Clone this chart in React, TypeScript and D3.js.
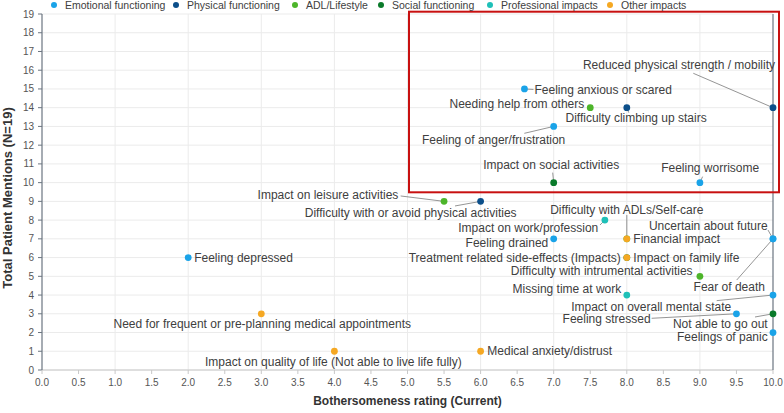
import React from "react";
import * as d3 from "d3";

// Impact categories (legend order = draw order)
const categories = [
  "Emotional functioning",
  "Physical functioning",
  "ADL/Lifestyle",
  "Social functioning",
  "Professional impacts",
  "Other impacts",
];
const categoryColors = ["#1aa3e8", "#0c4f8a", "#4db52a", "#0a7a2a", "#1ec0b8", "#f5a823"];

// Patient-reported impacts
const impacts = [
  "Feeling anxious or scared",
  "Feeling of anger/frustration",
  "Feeling worrisome",
  "Feeling depressed",
  "Feeling drained",
  "Uncertain about future",
  "Fear of death",
  "Impact on overall mental state",
  "Feeling stressed",
  "Feelings of panic",
  "Reduced physical strength / mobility",
  "Difficulty climbing up stairs",
  "Difficulty with or avoid physical activities",
  "Needing help from others",
  "Impact on leisure activities",
  "Difficulty with intrumental activities",
  "Difficulty with ADLs/Self-care",
  "Impact on social activities",
  "Not able to go out",
  "Impact on family life",
  "Impact on work/profession",
  "Missing time at work",
  "Need for frequent or pre-planning medical appointments",
  "Impact on quality of life (Not able to live life fully)",
  "Medical anxiety/distrust",
  "Financial impact",
  "Treatment related side-effects (Impacts)",
];
const impactCategory = [
  0, 0, 0, 0, 0, 0, 0, 0, 0, 0,
  1, 1, 1,
  2, 2, 2, 2,
  3, 3, 3,
  4, 4,
  5, 5, 5, 5, 5,
];
// Bothersomeness rating (Current)
const bothersomeness = [
  6.6, 7, 9, 2, 7, 10, 10, 10, 9.5, 10,
  10, 8, 6,
  7.5, 5.5, 9, 8,
  7, 10, 8,
  7.7, 8,
  3, 4, 6, 8, 8,
];
// Total patient mentions (N=19)
const mentions = [
  15, 13, 10, 6, 7, 7, 7, 4, 3, 2,
  14, 14, 9,
  14, 9, 5, 7,
  10, 3, 6,
  8, 4,
  3, 1, 1, 7, 6,
];

const xTicks = d3.range(0, 10.01, 0.5);
const yTicks = d3.range(0, 20, 1);

// Label placement relative to each dot: [anchor, dx, dy, leaderDx?, leaderDy?]
type LabelPlace = [string, number, number, number?, number?];
const labelPlacement: Record<string, LabelPlace> = {
  "Reduced physical strength / mobility": ["end", 2, -42.7, -79.7, -34.4],
  "Feeling anxious or scared": ["start", 10, 1, 9, 0.5],
  "Needing help from others": ["end", -6, -3.7],
  "Difficulty climbing up stairs": ["start", -61.3, 10.6, 2, 5],
  "Feeling of anger/frustration": ["end", 11.6, 13.6, -29.4, 6.9],
  "Impact on social activities": ["middle", -2.5, -17.6, -1, -10],
  "Feeling worrisome": ["middle", 10.3, -15, 2.7, -6],
  "Impact on leisure activities": ["end", -45.7, -6.4, -43.4, -5.4],
  "Difficulty with or avoid physical activities": ["end", 36, 11, -25.6, 4.6],
  "Difficulty with ADLs/Self-care": ["middle", 0, -29.5, 0, -23.8],
  "Impact on work/profession": ["end", -6.6, 7.2, -4.9, 4.9],
  "Feeling drained": ["end", -5.4, 3.9],
  "Financial impact": ["start", 6.5, 0],
  "Uncertain about future": ["end", -5.3, -13, -5, -8.8],
  "Treatment related side-effects (Impacts)": ["end", -6, 0],
  "Impact on family life": ["start", 6.5, 0],
  "Difficulty with intrumental activities": ["end", -7.3, -5.6],
  "Fear of death": ["middle", -43.7, 47.9, -36.3, 41.2],
  "Missing time at work": ["end", -5.5, -6.3],
  "Impact on overall mental state": ["middle", -121.8, 11.9, -56.3, 5.6],
  "Feeling stressed": ["end", -85.8, 5.5, -84.8, 4.5],
  "Not able to go out": ["end", -5.3, 10.5, -18, 3.2],
  "Feelings of panic": ["end", -5.3, 4.2],
  "Medical anxiety/distrust": ["start", 6.7, 0],
  "Impact on quality of life (Not able to live life fully)": ["middle", -1, 10.7],
  "Need for frequent or pre-planning medical appointments": ["middle", 1, 10.5],
  "Feeling depressed": ["start", 6, 0],
};

const legendX = [54, 176, 295, 381, 490, 610];

const FONT = "'Liberation Sans', Arial, Helvetica, sans-serif";
const W = 784;
const H = 413;

export default function App() {
  const x = d3.scaleLinear().domain([0, 10]).range([42, 773]);
  const y = d3.scaleLinear().domain([0, 19]).range([370, 14]);

  const order = d3
    .range(impacts.length)
    .sort((a, b) => impactCategory[a] - impactCategory[b]);

  return (
    <svg
      width={W}
      height={H}
      style={{ position: "absolute", left: 0, top: 0, background: "#fff" }}
      fontFamily={FONT}
    >
      {/* grid */}
      <g>
        {yTicks.map((t) => (
          <line key={"gy" + t} x1={x(0)} x2={x(10)} y1={y(t)} y2={y(t)} stroke="#ebebeb" strokeWidth={1} />
        ))}
        {d3.range(1, 10).map((t) => (
          <line key={"gx" + t} x1={x(t)} x2={x(t)} y1={y(0)} y2={y(19)} stroke="#ebebeb" strokeWidth={1} />
        ))}
      </g>

      {/* axes */}
      <line x1={x(0)} x2={x(10)} y1={y(0)} y2={y(0)} stroke="#c8c8c8" />
      <line x1={x(0)} x2={x(0)} y1={y(0)} y2={y(19)} stroke="#6b7580" strokeWidth={1.2} />
      <line x1={x(10)} x2={x(10)} y1={y(0)} y2={y(19)} stroke="#6b7580" strokeWidth={1.2} />
      {yTicks.map((t) => (
        <g key={"yt" + t}>
          <line x1={x(0) - 4} x2={x(0)} y1={y(t)} y2={y(t)} stroke="#6b7580" />
          <text x={x(0) - 8} y={y(t)} dy="0.35em" textAnchor="end" fontSize={10} fill="#555">
            {t}
          </text>
        </g>
      ))}
      {xTicks.map((t) => (
        <g key={"xt" + t}>
          <line x1={x(t)} x2={x(t)} y1={y(0)} y2={y(0) + 4} stroke="#c8c8c8" />
          <text x={x(t)} y={y(0) + 12} dy="0.35em" textAnchor="middle" fontSize={10} fill="#555">
            {d3.format(".1f")(t)}
          </text>
        </g>
      ))}

      <text x={(x(0) + x(10)) / 2} y={405} textAnchor="middle" fontSize={12} fontWeight="bold" fill="#333">
        Bothersomeness rating (Current)
      </text>
      <text
        transform={`translate(12, ${(y(0) + y(19)) / 2 + 6}) rotate(-90)`}
        textAnchor="middle"
        fontSize={13}
        fontWeight="bold"
        fill="#333"
      >
        Total Patient Mentions (N=19)
      </text>

      {/* highlight box */}
      <rect x={409} y={11.7} width={370} height={180.6} fill="none" stroke="#c81010" strokeWidth={2} />

      {/* leader lines */}
      <g>
        {order.map((i) => {
          const p = labelPlacement[impacts[i]];
          if (!p || p[3] === undefined) return null;
          const cx = x(bothersomeness[i]);
          const cy = y(mentions[i]);
          return (
            <line
              key={"ld" + i}
              x1={cx}
              y1={cy}
              x2={cx + (p[3] as number)}
              y2={cy + (p[4] as number)}
              stroke="#7a7a7a"
              strokeWidth={0.8}
            />
          );
        })}
      </g>

      {/* points */}
      <g>
        {order.map((i) => (
          <circle
            key={"pt" + i}
            cx={x(bothersomeness[i])}
            cy={y(mentions[i])}
            r={3.4}
            fill={categoryColors[impactCategory[i]]}
          />
        ))}
      </g>

      {/* labels */}
      <g>
        {order.map((i) => {
          const p = labelPlacement[impacts[i]] || ["start", 6, 0];
          return (
            <text
              key={"lb" + i}
              x={x(bothersomeness[i]) + p[1]}
              y={y(mentions[i]) + p[2]}
              dy="0.35em"
              textAnchor={p[0]}
              fontSize={12}
              fill="#404040"
            >
              {impacts[i]}
            </text>
          );
        })}
      </g>

      {/* legend */}
      <g>
        {categories.map((c, k) => (
          <g key={"lg" + k}>
            <circle cx={legendX[k]} cy={5} r={3} fill={categoryColors[k]} />
            <text x={legendX[k] + 11} y={5} dy="0.35em" fontSize={10.5} fill="#404040">
              {c}
            </text>
          </g>
        ))}
      </g>
    </svg>
  );
}
